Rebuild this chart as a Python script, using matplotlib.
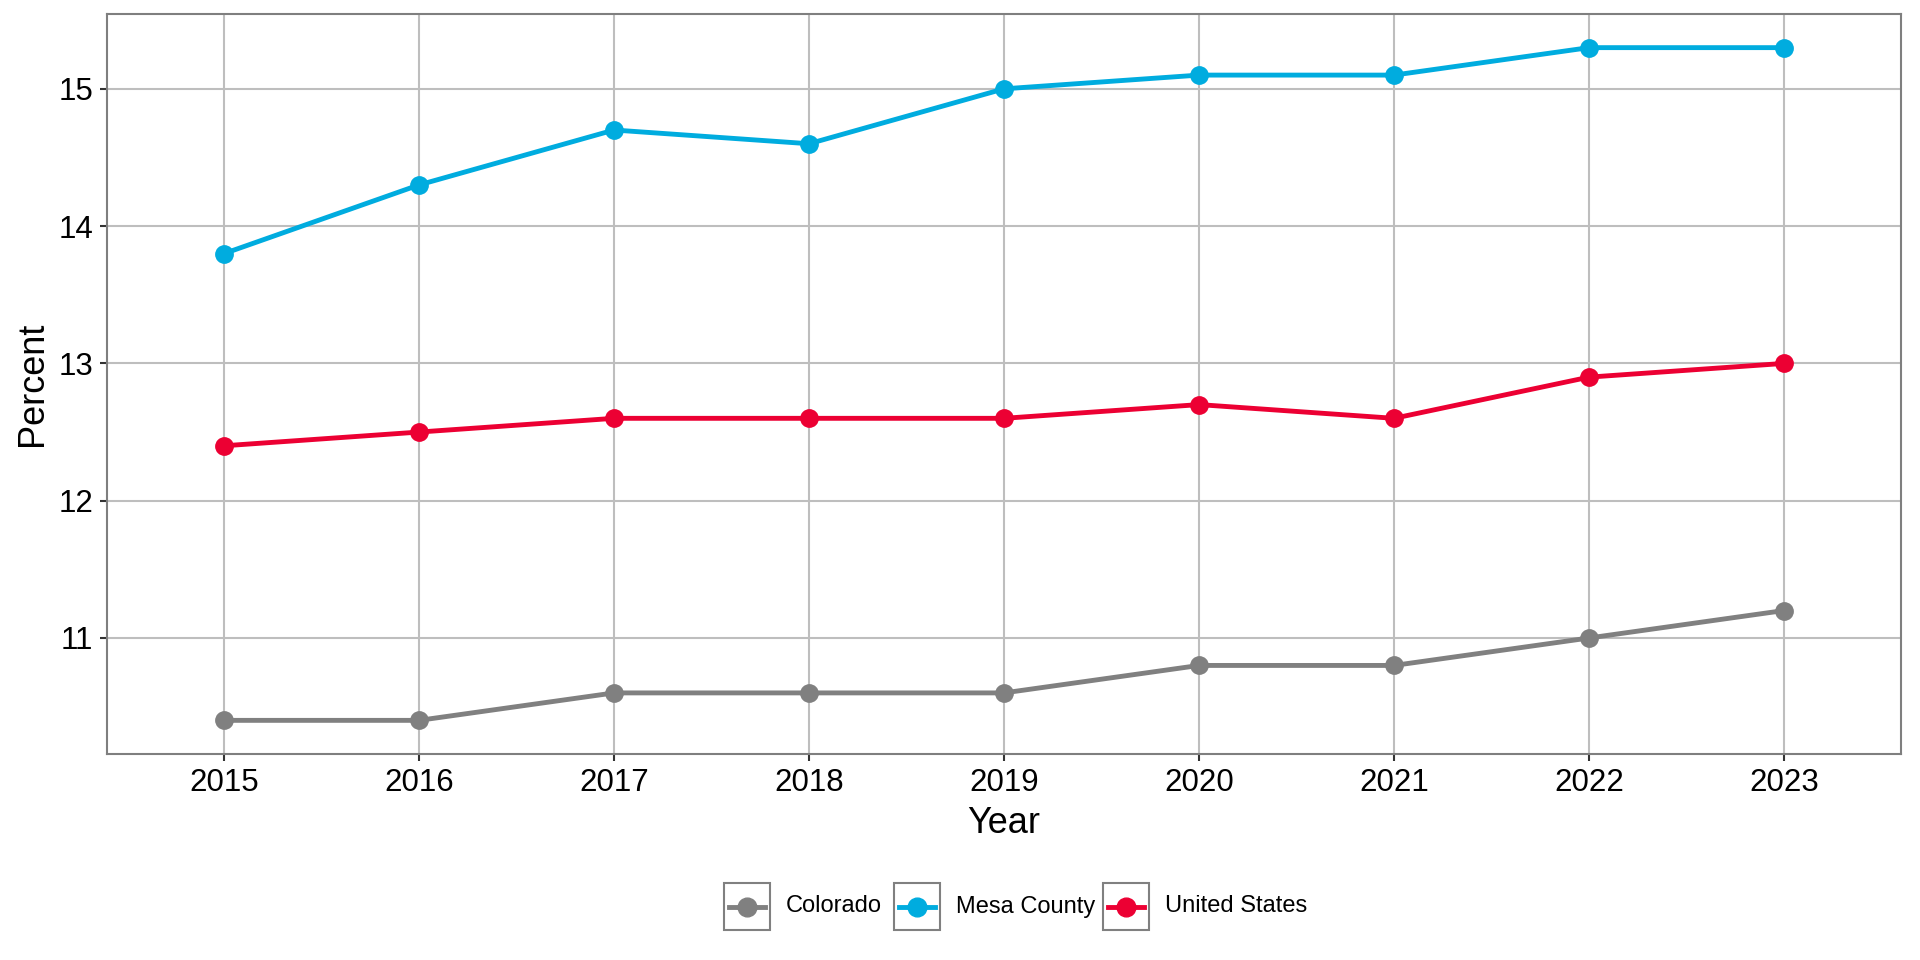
import matplotlib.pyplot as plt
from matplotlib.patches import Rectangle
from matplotlib.lines import Line2D

plt.rcParams['font.family'] = ['Liberation Sans', 'DejaVu Sans']

years = [2015, 2016, 2017, 2018, 2019, 2020, 2021, 2022, 2023]
colorado = [10.4, 10.4, 10.6, 10.6, 10.6, 10.8, 10.8, 11.0, 11.2]
mesa = [13.8, 14.3, 14.7, 14.6, 15.0, 15.1, 15.1, 15.3, 15.3]
united_states = [12.4, 12.5, 12.6, 12.6, 12.6, 12.7, 12.6, 12.9, 13.0]

series = [("Colorado", colorado, "#808080"),
          ("Mesa County", mesa, "#00ACDF"),
          ("United States", united_states, "#EC0033")]

W, H = 1920, 960
fig = plt.figure(figsize=(W / 100, H / 100), dpi=100)
ax = fig.add_axes([107 / W, 1 - 754 / H, (1901 - 107) / W, (754 - 14) / H])

for name, vals, col in series:
    ax.plot(years, vals, color=col, lw=3.5, marker="o", ms=12.5,
            solid_capstyle="butt", zorder=3)

lo = min(colorado)
hi = max(mesa)
pad = (hi - lo) * 0.05
ax.set_ylim(lo - pad, hi + pad)
ax.set_xlim(years[0] - 0.6, years[-1] + 0.6)
ax.set_xticks(years)
ax.set_yticks([11, 12, 13, 14, 15])

ax.grid(True, color="#BEBEBE", lw=1.5)
ax.set_axisbelow(True)
for s in ax.spines.values():
    s.set_color("#7F7F7F")
    s.set_linewidth(1.5)
ax.tick_params(labelsize=22.5, length=5, width=1.5, color="#333333",
               labelcolor="black", pad=5)

ax.set_xlabel("Year", fontsize=26, labelpad=6)
ax.set_ylabel("Percent", fontsize=26, labelpad=6)

# legend at the bottom, ggplot style boxes around each key
boxes = [724, 894, 1103]
bw, bh = 46, 47
y0 = H - 930
for (name, vals, col), bx in zip(series, boxes):
    fig.patches.append(Rectangle((bx, y0), bw, bh, transform=None,
                                 fill=False, edgecolor="#808080", lw=1.5))
    cy = y0 + bh / 2
    fig.lines.append(Line2D([bx + 5, bx + bw - 5], [cy, cy], transform=None,
                            color=col, lw=3.5))
    fig.lines.append(Line2D([bx + bw / 2], [cy], transform=None, color=col,
                            marker="o", ms=13.5, lw=0))
    fig.text((bx + bw + 16) / W, cy / H, name, fontsize=17, va="center",
             ha="left")

fig.savefig("out.png", dpi=100, facecolor="white")
